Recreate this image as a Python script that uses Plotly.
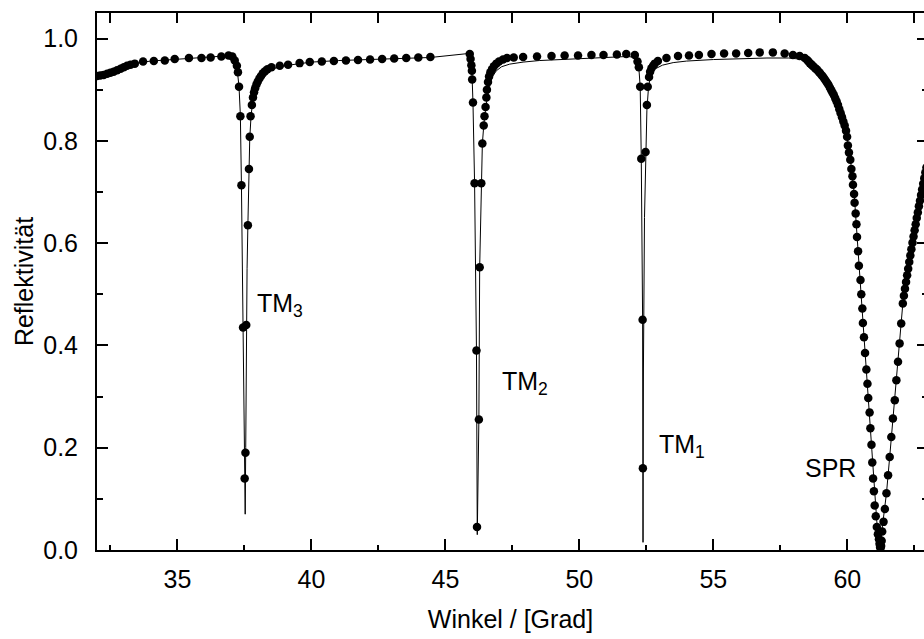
import plotly.graph_objects as go

# Measured reflectivity (dots): angle in degrees, reflectivity
angle_meas = [
    32.00, 32.12, 32.25, 32.38, 32.50, 32.62, 32.75, 32.88, 33.00, 33.12, 33.25, 33.41,
    33.72, 34.12, 34.53, 34.90, 35.43, 35.90, 36.24, 36.64, 36.91, 37.05, 37.14, 37.22,
    37.26, 37.30, 37.35, 37.39, 37.45, 37.51, 37.54, 37.57, 37.63, 37.67, 37.70, 37.73,
    37.78, 37.82, 37.86, 37.90, 37.95, 38.00, 38.06, 38.12, 38.19, 38.27, 38.36, 38.51,
    38.82, 39.13, 39.56, 39.94, 40.39, 40.84, 41.29, 41.74, 42.19, 42.64, 43.09, 43.54,
    43.99, 44.44,
    45.91, 45.94, 45.97, 45.99, 46.00, 46.03, 46.09, 46.16, 46.18, 46.25, 46.28, 46.34,
    46.38, 46.43, 46.46, 46.50, 46.53, 46.55, 46.59, 46.63, 46.68, 46.74, 46.81, 46.90,
    47.00, 47.15, 47.30, 47.55, 47.90, 48.42, 48.96, 49.45, 49.95, 50.45, 50.90, 51.40,
    51.75, 52.07,
    52.17, 52.22, 52.27, 52.31, 52.36, 52.37, 52.47, 52.52, 52.55, 52.60, 52.64, 52.69,
    52.75, 52.81, 52.93, 53.25, 53.68, 54.09, 54.46, 54.93, 55.40, 55.85, 56.30, 56.73,
    57.22, 57.66, 57.97, 58.22, 58.41,
    58.50, 58.55, 58.60, 58.65, 58.70, 58.75, 58.80, 58.85, 58.90, 58.95, 59.00, 59.05,
    59.10, 59.15, 59.20, 59.25, 59.30, 59.35, 59.40, 59.45, 59.50, 59.55, 59.60, 59.65,
    59.70, 59.75, 59.80, 59.85, 59.90, 59.95,
    59.99, 60.02, 60.06, 60.11, 60.15, 60.19, 60.21, 60.25, 60.27, 60.31, 60.34, 60.36,
    60.40, 60.43, 60.49, 60.52, 60.56, 60.58, 60.62, 60.66, 60.71, 60.75, 60.78, 60.83,
    60.86, 60.90, 60.93, 60.96, 60.99, 61.02, 61.06, 61.10, 61.14, 61.18, 61.20, 61.22,
    61.24, 61.26, 61.28,
    61.30, 61.35, 61.40, 61.46, 61.52, 61.58, 61.64, 61.70, 61.77, 61.83, 61.89, 61.95,
    62.01, 62.07, 62.11, 62.15, 62.19, 62.23, 62.27, 62.31, 62.35, 62.39, 62.43, 62.47,
    62.51, 62.55, 62.59, 62.63, 62.67, 62.71, 62.75, 62.79, 62.83, 62.87, 62.91, 62.95,
]
refl_meas = [
    0.927, 0.928, 0.929, 0.931, 0.933, 0.935, 0.938, 0.941, 0.944, 0.947, 0.949, 0.951,
    0.955, 0.956, 0.957, 0.960, 0.962, 0.962, 0.963, 0.965, 0.967, 0.965, 0.957, 0.947,
    0.934, 0.906, 0.848, 0.713, 0.435, 0.140, 0.190, 0.440, 0.635, 0.745, 0.808, 0.848,
    0.870, 0.885, 0.895, 0.903, 0.910, 0.916, 0.922, 0.927, 0.932, 0.936, 0.940, 0.944,
    0.947, 0.949, 0.952, 0.954, 0.955, 0.956, 0.957, 0.958, 0.959, 0.960, 0.961, 0.962,
    0.963, 0.964,
    0.970, 0.960, 0.948, 0.937, 0.920, 0.875, 0.717, 0.390, 0.045, 0.255, 0.553, 0.717,
    0.795, 0.830, 0.848, 0.866, 0.885, 0.900, 0.915, 0.926, 0.934, 0.940, 0.946, 0.951,
    0.955, 0.959, 0.962, 0.963, 0.964, 0.965, 0.966, 0.967, 0.967, 0.968, 0.968, 0.969,
    0.970, 0.968,
    0.955, 0.944, 0.906, 0.765, 0.450, 0.160, 0.778, 0.870, 0.906, 0.925, 0.935, 0.942,
    0.947, 0.951, 0.956, 0.962, 0.966, 0.967, 0.968, 0.970, 0.971, 0.971, 0.972, 0.973,
    0.973, 0.971, 0.968, 0.966, 0.962,
    0.958, 0.955, 0.952, 0.950, 0.947, 0.945, 0.942, 0.940, 0.937, 0.934, 0.931, 0.928,
    0.925, 0.921, 0.917, 0.913, 0.909, 0.904, 0.899, 0.894, 0.889, 0.883, 0.877, 0.870,
    0.862, 0.854, 0.846, 0.838, 0.830, 0.820,
    0.808, 0.791, 0.777, 0.763, 0.745, 0.731, 0.714, 0.696, 0.679, 0.658, 0.637, 0.612,
    0.584, 0.556, 0.528, 0.500, 0.472, 0.444, 0.416, 0.385, 0.353, 0.325, 0.297, 0.269,
    0.238, 0.206, 0.171, 0.140, 0.115, 0.087, 0.066, 0.045, 0.031, 0.021, 0.012, 0.006,
    0.004, 0.008, 0.018,
    0.036, 0.055, 0.080, 0.111, 0.146, 0.182, 0.221, 0.257, 0.293, 0.332, 0.368, 0.404,
    0.443, 0.482, 0.497, 0.511, 0.524, 0.537, 0.550, 0.563, 0.576, 0.588, 0.601, 0.613,
    0.625, 0.637, 0.649, 0.660, 0.672, 0.683, 0.694, 0.705, 0.716, 0.727, 0.738, 0.748,
]

# Fitted reflectivity curve (thin line)
angle_fit = [
    32.00, 32.50, 33.00, 33.50, 34.00, 34.50, 35.00, 35.50, 36.00, 36.50, 36.90, 37.05,
    37.15, 37.22, 37.30, 37.35, 37.39, 37.45, 37.50, 37.53, 37.55, 37.57, 37.60, 37.63,
    37.67, 37.70, 37.75, 37.82, 37.90, 38.00, 38.20, 38.50, 39.00, 39.50, 40.00, 41.00,
    42.00, 43.00, 44.44,
    45.90, 45.95, 45.99, 46.03, 46.09, 46.16, 46.19, 46.25, 46.28, 46.34, 46.38, 46.44,
    46.52, 46.62, 46.75, 46.90, 47.10, 47.40, 47.90, 48.50, 49.30, 50.30, 51.30, 51.80,
    52.10, 52.18, 52.23, 52.27, 52.31, 52.36, 52.37, 52.375, 52.39, 52.43, 52.47, 52.52,
    52.58, 52.66, 52.80, 53.10, 53.50, 54.00, 55.00, 56.00, 57.00, 57.80, 58.20, 58.50,
    58.80, 59.10, 59.40, 59.70, 59.95, 60.10, 60.25, 60.40, 60.55, 60.70, 60.85, 61.00,
    61.10, 61.18, 61.22, 61.27, 61.35, 61.46, 61.58, 61.70, 61.83, 61.95, 62.07, 62.27,
    62.47, 62.67, 62.87, 62.95,
]
refl_fit = [
    0.927, 0.934, 0.944, 0.952, 0.956, 0.958, 0.960, 0.962, 0.963, 0.965, 0.966, 0.963,
    0.955, 0.945, 0.906, 0.850, 0.713, 0.435, 0.190, 0.070, 0.200, 0.440, 0.550, 0.635,
    0.745, 0.805, 0.850, 0.880, 0.898, 0.912, 0.928, 0.940, 0.947, 0.951, 0.954, 0.957,
    0.959, 0.961, 0.963,
    0.971, 0.958, 0.935, 0.875, 0.717, 0.390, 0.030, 0.255, 0.553, 0.717, 0.795, 0.835,
    0.870, 0.900, 0.925, 0.937, 0.945, 0.950, 0.954, 0.957, 0.959, 0.961, 0.963, 0.965,
    0.963, 0.955, 0.935, 0.906, 0.765, 0.450, 0.160, 0.015, 0.350, 0.650, 0.778, 0.860,
    0.905, 0.928, 0.940, 0.948, 0.953, 0.956, 0.959, 0.961, 0.962, 0.962, 0.960, 0.955,
    0.942, 0.925, 0.899, 0.862, 0.820, 0.770, 0.700, 0.585, 0.475, 0.358, 0.245, 0.130,
    0.055, 0.018, 0.005, 0.030, 0.062, 0.111, 0.182, 0.257, 0.332, 0.404, 0.482, 0.550,
    0.613, 0.672, 0.727, 0.748,
]

# Resonance labels: text, angle, reflectivity, anchor
label_text = ["TM<sub>3</sub>", "TM<sub>2</sub>", "TM<sub>1</sub>", "SPR"]
label_x = [37.88, 47.03, 52.89, 60.39]
label_y = [0.48, 0.326, 0.203, 0.16]
label_anchor = ["left", "left", "left", "right"]

x_range = [32, 62.86]
y_range = [0, 1.05]

FONT = "Liberation Sans, Arial, sans-serif"
FS = 25

fig = go.Figure()

fig.add_trace(go.Scatter(
    x=angle_meas, y=refl_meas, mode="markers",
    marker=dict(color="black", size=8.5, line=dict(width=0)),
    showlegend=False, hoverinfo="x+y",
))
fig.add_trace(go.Scatter(
    x=angle_fit, y=refl_fit, mode="lines",
    line=dict(color="black", width=1),
    xaxis="x2", yaxis="y2",
    showlegend=False, hoverinfo="x+y",
))

for t, x, y, a in zip(label_text, label_x, label_y, label_anchor):
    fig.add_annotation(
        x=x, y=y, text=t, showarrow=False, xanchor=a, yanchor="middle",
        font=dict(family=FONT, size=FS, color="black"),
    )

fig.update_layout(
    width=924, height=639,
    margin=dict(l=97, r=0, t=13, b=89),
    paper_bgcolor="white", plot_bgcolor="white",
    font=dict(family=FONT, size=FS, color="black"),
    xaxis=dict(
        range=x_range, showgrid=False, zeroline=False,
        showline=True, linecolor="black", linewidth=2, mirror=True,
        ticks="inside", ticklen=11, tickwidth=2, tickcolor="black",
        tick0=0, dtick=5, ticklabelstandoff=6,
        minor=dict(ticks="inside", ticklen=5, tickwidth=2, tickcolor="black",
                   tick0=0, dtick=2.5, showgrid=False),
        title=dict(text="Winkel / [Grad]", standoff=18,
                   font=dict(family=FONT, size=FS)),
        tickfont=dict(family=FONT, size=FS),
    ),
    yaxis=dict(
        range=y_range, showgrid=False, zeroline=False,
        showline=True, linecolor="black", linewidth=2, mirror=False,
        ticks="inside", ticklen=11, tickwidth=2, tickcolor="black",
        tick0=0, dtick=0.2, tickformat=".1f", ticklabelstandoff=12,
        minor=dict(ticks="inside", ticklen=6, tickwidth=2, tickcolor="black",
                   tick0=0, dtick=0.1, showgrid=False),
        title=dict(text="Reflektivität", standoff=2,
                   font=dict(family=FONT, size=FS)),
        tickfont=dict(family=FONT, size=FS),
    ),
    xaxis2=dict(
        range=x_range, overlaying="x", side="top", anchor="y2",
        showgrid=False, zeroline=False, showline=False, showticklabels=False,
        ticks="inside", ticklen=10, tickwidth=2, tickcolor="black",
        tick0=0, dtick=2.5,
    ),
    yaxis2=dict(
        range=y_range, overlaying="y", side="right", anchor="x2",
        showgrid=False, zeroline=False, showline=False, showticklabels=False,
        ticks="inside", ticklen=7, tickwidth=2, tickcolor="black",
        tick0=0, dtick=0.2,
        minor=dict(ticks="inside", ticklen=2, tickwidth=2, tickcolor="black",
                   tick0=0, dtick=0.1, showgrid=False),
    ),
)

fig.write_html("out.html")
